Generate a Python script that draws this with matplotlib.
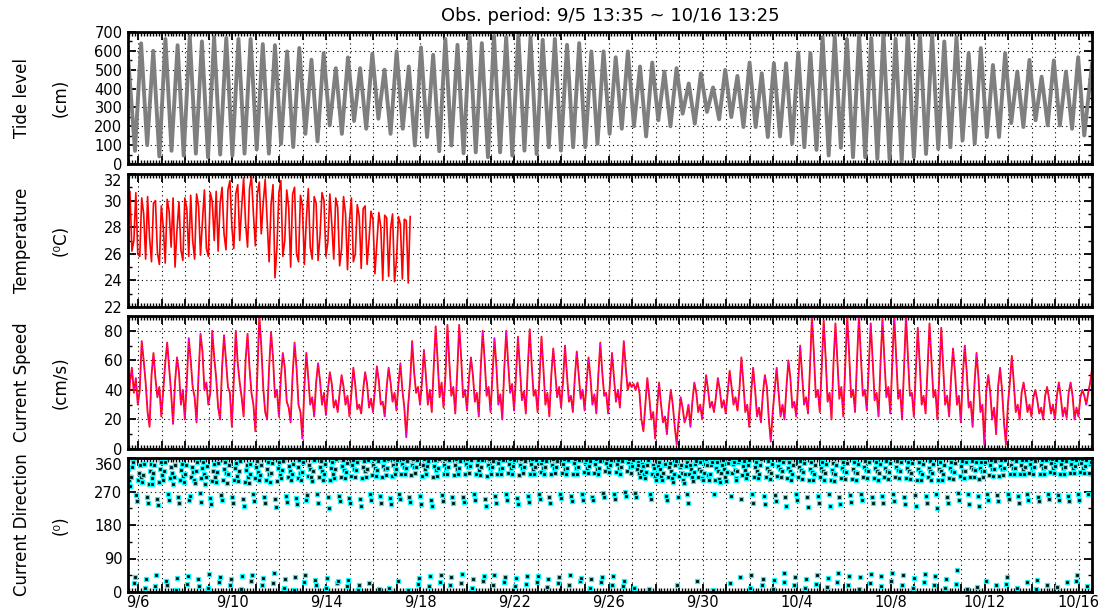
import numpy as np
import pandas as pd
import matplotlib
matplotlib.use('Agg')
import matplotlib.pyplot as plt
import matplotlib.dates as mdates
from matplotlib.ticker import MultipleLocator, FixedLocator, FuncFormatter
from datetime import date

# --- observation window ---
obs_start = pd.Timestamp('2015-09-05 13:35')
obs_end = pd.Timestamp('2015-10-16 13:25')
title = 'Obs. period: 9/5 13:35 ~ 10/16 13:25'

# --- tide level (cm): low / high waters ---
tide_first_value = 570          # at obs start
tide_last_value = 530           # at obs end
tide_first_low_h = 7.15         # hours after start of first low water
tide_half_period_h = 6.21       # semidiurnal half period
tide_lows = [70, 100, 40, 70, 45, 55, 35, 50, 45, 55, 77, 55, 107, 90, 160, 120,
             205, 160, 228, 187, 240, 160,
             187, 98, 143, 68, 98, 57, 62, 36, 62, 45, 71, 53, 89, 71, 89, 89,
             107, 160, 187, 200, 146, 232, 200, 267, 214, 276, 237, 249, 196, 196, 143,
             146, 107, 89, 75, 45, 86, 36, 36, 27, 27, 15, 36, 53, 80, 89, 125,
             107, 143, 143, 217, 196, 232, 205, 205, 187, 151]
tide_highs = [640, 600, 663, 630, 677, 650, 673, 668, 663, 663, 636, 630, 597, 615,
              553, 588, 508, 565, 508, 585, 500, 597,
              517, 618, 579, 663, 632, 680, 641, 680, 673, 682, 673, 659, 663, 632,
              641, 597, 597, 566, 597, 517, 538, 490, 508, 427, 481, 406, 499, 467,
              538, 481, 534,
              534, 591, 588, 673, 677, 663, 686, 668, 691, 664, 698, 686, 686, 650,
              673, 588, 615, 525, 588, 490, 552, 463, 549, 490, 566]

# --- water temperature (deg C), every 2 h from obs start ---
temp_step_h = 2
temperature = [
    29.5, 30.7, 26.2, 27.0, 30.6, 26.0, 25.8, 30.2, 29.0, 25.6, 30.3, 27.2,
    25.4, 29.8, 30.0, 26.1, 25.2, 29.6, 28.0, 25.3, 30.1, 29.2, 26.5, 30.2,
    25.0, 27.8, 29.9, 26.3, 25.5, 30.2, 29.4, 25.8, 30.4, 27.0, 25.6, 30.5,
    29.6, 25.9, 28.5, 30.8, 26.4, 25.8, 30.6, 29.9, 27.0, 30.7, 26.2, 29.8,
    31.0, 27.5, 26.3, 30.8, 31.5, 28.0, 26.4, 30.5, 31.2, 27.0, 29.5, 31.7,
    28.3, 26.5, 30.9, 31.8, 29.0, 26.6, 30.5, 31.4, 27.5, 29.8, 31.6, 28.5,
    25.4, 29.7, 31.2, 24.2, 26.5, 30.6, 31.5, 25.8, 27.0, 30.8, 29.5, 25.0,
    30.5, 31.0, 26.0, 25.4, 30.4, 29.6, 25.2, 28.6, 30.9, 26.5, 25.6, 30.3,
    29.8, 25.5, 27.4, 30.6, 30.0, 25.8, 26.9, 30.5, 28.2, 25.6, 30.2, 29.5,
    25.1, 26.4, 30.3, 29.0, 24.8, 28.5, 30.2, 25.4, 26.0, 29.7, 28.8, 24.9,
    29.4, 29.6, 25.2, 27.1, 29.2, 28.6, 24.5, 26.8, 29.1, 28.0, 24.0, 28.9,
    28.7, 24.3, 27.9, 29.0, 23.9, 25.5, 28.8, 28.2, 24.1, 28.6, 28.5, 23.8,
    28.8]

# --- current speed (cm/s), every 2 h from obs start ---
speed_step_h = 2
current_speed = [
    22, 45, 55, 38, 48, 30, 40, 73, 60, 45, 25, 15,
    50, 65, 48, 35, 42, 22, 40, 58, 72, 55, 38, 17,
    45, 62, 52, 30, 40, 20, 45, 75, 60, 42, 35, 18,
    50, 78, 66, 40, 45, 30, 38, 80, 62, 48, 28, 20,
    55, 77, 60, 42, 38, 15, 47, 80, 58, 45, 35, 22,
    60, 78, 55, 38, 30, 12, 52, 90, 70, 42, 25, 20,
    55, 79, 62, 35, 40, 22, 48, 65, 55, 32, 28, 18,
    50, 72, 55, 30, 25, 7, 42, 65, 48, 30, 35, 22,
    45, 58, 46, 30, 38, 23, 40, 52, 44, 28, 33, 25,
    38, 50, 42, 30, 36, 22, 38, 55, 43, 27, 30, 24,
    40, 52, 44, 28, 34, 25, 40, 56, 46, 30, 32, 22,
    42, 55, 45, 32, 38, 26, 44, 58, 40, 28, 8, 30,
    46, 73, 52, 38, 42, 30, 45, 67, 50, 30, 40, 25,
    55, 83, 60, 35, 45, 28, 50, 84, 58, 36, 42, 24,
    52, 84, 62, 35, 40, 26, 48, 62, 50, 32, 38, 22,
    55, 80, 60, 36, 42, 25, 50, 75, 56, 30, 37, 20,
    54, 80, 58, 38, 44, 26, 50, 76, 55, 33, 39, 24,
    55, 81, 57, 36, 40, 25, 48, 76, 54, 30, 38, 22,
    50, 68, 52, 35, 42, 28, 46, 70, 50, 32, 36, 25,
    48, 66, 50, 34, 40, 26, 45, 62, 48, 30, 37, 24,
    50, 72, 52, 36, 38, 24, 46, 65, 48, 32, 40, 28,
    50, 73, 55, 40, 45, 42, 44, 40, 45, 38, 20, 12,
    30, 48, 35, 20, 25, 7, 28, 45, 30, 18, 22, 10,
    28, 40, 30, 15, 3, 20, 35, 28, 18, 22, 30, 15,
    32, 45, 38, 25, 30, 20, 35, 50, 40, 28, 32, 25,
    35, 48, 40, 28, 33, 24, 38, 53, 42, 30, 35, 26,
    40, 62, 45, 25, 30, 15, 38, 55, 40, 22, 28, 18,
    38, 50, 42, 20, 5, 25, 40, 55, 38, 22, 30, 20,
    42, 60, 48, 28, 32, 22, 45, 70, 50, 30, 35, 24,
    55, 90, 65, 35, 40, 25, 55, 87, 62, 32, 38, 20,
    58, 85, 60, 34, 42, 22, 56, 90, 64, 35, 40, 25,
    60, 90, 62, 36, 40, 26, 55, 85, 60, 33, 38, 22,
    58, 88, 60, 35, 42, 24, 58, 90, 62, 34, 40, 20,
    55, 90, 62, 36, 38, 22, 52, 82, 58, 30, 36, 24,
    54, 85, 60, 35, 40, 20, 50, 82, 55, 30, 36, 22,
    48, 68, 52, 30, 36, 18, 50, 70, 52, 28, 32, 15,
    45, 65, 48, 25, 30, 3, 40, 50, 38, 20, 28, 10,
    42, 55, 40, 18, 3, 30, 45, 63, 45, 25, 30, 20,
    38, 45, 36, 25, 30, 22, 35, 40, 33, 24, 28, 20,
    36, 42, 34, 24, 30, 20, 36, 45, 35, 22, 28, 21,
    38, 45, 36, 20, 28, 22, 35, 40, 36, 30, 38, 45,
    55]

# --- current direction (deg), hourly from obs start ---
dir_step_h = 1
current_dir = [
    330, 300, 285, 310, 335, 350, 25, 40, 260, 245, 300, 320, 340, 310, 295, 315, 345, 10, 35, 255, 240, 290, 325, 345,
    305, 290, 320, 340, 15, 45, 250, 235, 295, 330, 350, 315, 300, 325, 348, 30, 20, 262, 248, 305, 335, 320, 290, 310,
    340, 5, 38, 255, 238, 300, 328, 345, 312, 296, 318, 342, 22, 44, 248, 258, 310, 336, 322, 300, 292, 325, 350, 35,
    15, 265, 242, 305, 332, 348, 318, 290, 310, 338, 12, 48, 252, 236, 298, 326, 344, 308, 295, 322, 346, 28, 40, 260,
    247, 300, 330, 350, 320, 294, 316, 340, 20, 36, 256, 240, 302, 334, 346, 312, 298, 324, 352, 8, 42, 250, 232, 296,
    328, 342, 310, 292, 318, 345, 30, 45, 262, 244, 306, 336, 352, 322, 300, 315, 340, 18, 38, 255, 238, 300, 330, 348,
    318, 296, 320, 346, 25, 50, 250, 228, 298, 332, 350, 315, 305, 328, 352, 12, 35, 258, 242, 308, 338, 325, 302, 318,
    344, 6, 40, 253, 236, 305, 335, 355, 320, 300, 322, 348, 28, 46, 247, 260, 312, 340, 330, 308, 298, 326, 354, 32,
    18, 262, 240, 310, 336, 352, 326, 300, 318, 344, 10, 38, 256, 226, 302, 334, 350, 316, 305, 330, 356, 24, 30, 258,
    244, 308, 338, 354, 328, 306, 322, 346, 15, 33, 252, 238, 312, 340, 355, 330, 310, 328, 350, 5, 20, 250, 230, 305,
    336, 352, 325, 310, 330, 355, 25, 262, 246, 315, 342, 356, 332, 312, 328, 352, 8, 258, 240, 310, 338, 354, 330, 315,
    332, 356, 12, 252, 236, 312, 340, 356, 334, 316, 330, 354, 30, 264, 250, 318, 345, 358, 335, 318, 332, 352, 5, 256,
    242, 315, 342, 358, 336, 320, 335, 355, 22, 38, 258, 236, 312, 340, 356, 330, 316, 338, 352, 15, 42, 248, 232, 310,
    338, 355, 328, 312, 334, 356, 28, 45, 260, 244, 316, 342, 358, 332, 318, 336, 354, 18, 40, 254, 238, 314, 340, 356,
    330, 316, 334, 352, 24, 48, 256, 242, 318, 344, 356, 335, 320, 338, 355, 12, 36, 262, 246, 316, 342, 354, 328, 314,
    336, 354, 30, 44, 250, 232, 312, 340, 358, 334, 318, 336, 352, 20, 46, 258, 240, 318, 346, 356, 330, 316, 334, 355,
    26, 40, 262, 248, 320, 344, 356, 332, 318, 338, 354, 16, 38, 252, 236, 314, 342, 357, 334, 320, 336, 352, 22, 44,
    258, 242, 318, 345, 356, 330, 316, 335, 354, 28, 42, 262, 250, 322, 346, 355, 332, 318, 336, 353, 14, 36, 256, 238,
    316, 342, 357, 334, 320, 337, 352, 24, 40, 264, 252, 320, 344, 356, 330, 316, 334, 355, 18, 45, 258, 244, 318, 346,
    356, 332, 318, 336, 354, 30, 38, 262, 248, 322, 348, 355, 334, 320, 338, 352, 12, 34, 255, 246, 320, 344, 356, 330,
    316, 334, 353, 26, 40, 266, 254, 324, 346, 357, 336, 322, 340, 355, 20, 42, 262, 250, 322, 345, 354, 332, 318, 336,
    352, 15, 30, 268, 258, 326, 348, 356, 335, 320, 338, 354, 10, 266, 255, 330, 348, 340, 320, 310, 325, 345, 338, 318,
    305, 322, 342, 355, 8, 262, 250, 318, 340, 332, 312, 300, 318, 338, 350, 330, 312, 300, 320, 342, 345, 258, 246, 310,
    335, 346, 325, 305, 296, 318, 340, 352, 20, 255, 312, 336, 342, 320, 302, 294, 316, 338, 348, 262, 240, 316, 340, 330,
    310, 298, 322, 345, 352, 30, 310, 330, 348, 325, 305, 300, 320, 344, 356, 340, 315, 300, 318, 340, 350, 5, 262, 300,
    332, 350, 326, 304, 296, 320, 342, 354, 330, 308, 298, 322, 346, 356, 25, 258, 320, 344, 350, 328, 306, 300, 324, 348,
    355, 40, 250, 314, 338, 352, 328, 306, 316, 340, 355, 12, 46, 262, 240, 310, 336, 350, 324, 305, 318, 342, 356, 20,
    36, 258, 236, 308, 334, 352, 326, 304, 320, 345, 8, 32, 260, 244, 312, 338, 354, 330, 310, 326, 348, 28, 50, 254,
    232, 306, 332, 350, 325, 300, 318, 342, 18, 40, 262, 246, 310, 336, 352, 328, 304, 322, 346, 10, 36, 256, 228, 302,
    330, 348, 322, 300, 316, 340, 22, 46, 258, 240, 308, 334, 350, 324, 302, 320, 344, 14, 38, 262, 232, 300, 328, 346,
    320, 298, 318, 342, 28, 50, 254, 236, 306, 332, 350, 326, 304, 322, 346, 18, 44, 260, 242, 304, 330, 348, 322, 300,
    320, 344, 8, 40, 262, 246, 310, 336, 352, 328, 306, 324, 348, 24, 48, 256, 238, 306, 334, 350, 324, 302, 320, 345,
    15, 42, 258, 240, 308, 334, 352, 326, 304, 322, 347, 30, 52, 262, 244, 310, 336, 353, 328, 306, 324, 348, 20, 45,
    255, 236, 306, 332, 350, 326, 304, 320, 346, 12, 38, 260, 230, 302, 330, 350, 322, 300, 318, 344, 26, 48, 258, 240,
    308, 334, 352, 326, 302, 320, 345, 18, 44, 262, 226, 300, 330, 348, 324, 300, 318, 342, 10, 36, 256, 238, 306, 334,
    350, 324, 304, 322, 346, 22, 60, 265, 248, 312, 338, 352, 326, 306, 324, 348, 8, 262, 236, 308, 336, 352, 330, 310,
    328, 350, 14, 258, 232, 304, 332, 350, 326, 308, 326, 350, 30, 264, 248, 314, 340, 355, 330, 312, 330, 352, 18, 260,
    244, 312, 338, 354, 330, 314, 332, 355, 22, 40, 262, 250, 318, 342, 356, 332, 316, 334, 352, 12, 258, 240, 316, 342,
    355, 330, 316, 336, 354, 26, 262, 248, 320, 344, 356, 334, 318, 336, 352, 8, 32, 256, 244, 318, 342, 354, 332, 318,
    336, 354, 20, 262, 250, 322, 346, 356, 334, 320, 338, 354, 14, 260, 246, 318, 344, 355, 332, 318, 336, 353, 28, 258,
    244, 320, 345, 356, 334, 320, 338, 355, 30, 45, 262, 248, 322, 346, 356, 334, 320, 338, 354, 16, 262, 320, 345, 350]

# --- panel settings ---
panel_names = [('Tide level', '(cm)'), ('Temperature', '(\u2070C)'),
               ('Current Speed', '(cm/s)'), ('Current Direction', '(\u2070)')]
panel_yticks = [[0, 100, 200, 300, 400, 500, 600, 700],
                [22, 24, 26, 28, 30, 32],
                [0, 20, 40, 60, 80],
                [0, 90, 180, 270, 360]]
panel_ylim = [(0, 700), (22, 32), (0, 90), (0, 360)]
panel_minor = [50, 1, 10, 45]
panel_px = [(32, 164), (174, 307), (316, 449), (458, 592)]   # top/bottom in pixels
first_label_day = date(2015, 9, 6)

W, H = 1114, 609
AX_L, AX_R = 128, 1092


def to_time(hours):
    return (obs_start + pd.to_timedelta(np.asarray(hours, dtype=float), unit='h')).to_numpy()


def day_label(x, pos):
    d = mdates.num2date(x)
    if (d.date() - first_label_day).days % 4 == 0:
        return f'{d.month}/{d.day}'
    return ''


label_font = ['Liberation Sans Narrow', 'DejaVu Sans']

fig = plt.figure(figsize=(W / 100, H / 100), dpi=100)
axes = []
for i, (top, bot) in enumerate(panel_px):
    ax = fig.add_axes([AX_L / W, 1 - bot / H, (AX_R - AX_L) / W, (bot - top) / H])
    ax.set_xlim(obs_start.to_numpy(), obs_end.to_numpy())
    ax.set_ylim(*panel_ylim[i])
    ax.yaxis.set_major_locator(FixedLocator(panel_yticks[i]))
    ax.yaxis.set_minor_locator(MultipleLocator(panel_minor[i]))
    ax.xaxis.set_major_locator(mdates.DayLocator())
    ax.xaxis.set_minor_locator(mdates.HourLocator(byhour=range(0, 24, 3)))
    ax.xaxis.set_major_formatter(FuncFormatter(day_label))
    ax.tick_params(which='both', direction='in', top=True, right=True,
                   labelbottom=(i == 3), labelsize=10.5)
    ax.tick_params(axis='y', pad=4)
    ax.tick_params(axis='x', pad=2)
    ax.tick_params(which='major', length=6, width=1.3)
    ax.tick_params(which='minor', length=3, width=1.0)
    ax.grid(True, which='major', color='black', linestyle=(0, (1, 3)), linewidth=0.8)
    for sp in ax.spines.values():
        sp.set_linewidth(2)
    # a label sitting on the top frame hangs below it, clear of the panel above
    if panel_yticks[i][-1] == panel_ylim[i][1] and i > 0:
        ax.yaxis.get_major_ticks()[-1].label1.set_va('top')
    cy = 1 - (top + bot) / 2 / H
    fig.text(22 / W, cy, panel_names[i][0], rotation=90, ha='center', va='center',
             fontsize=12, family=label_font)
    fig.text(61 / W, cy, panel_names[i][1], rotation=90, ha='center', va='center',
             fontsize=12, family=label_font)
    axes.append(ax)

# 1. tide: start, alternating low/high waters, end
tide_vals = [tide_first_value]
for k in range(len(tide_lows)):
    tide_vals.append(tide_lows[k])
    if k < len(tide_highs):
        tide_vals.append(tide_highs[k])
tide_vals.append(tide_last_value)
tide_hours = [0] + [tide_first_low_h + tide_half_period_h * k for k in range(len(tide_vals) - 2)] \
    + [(obs_end - obs_start).total_seconds() / 3600]
axes[0].plot(to_time(tide_hours), tide_vals, color='#7f7f7f', lw=2.8, solid_joinstyle='round')

# 2. temperature
t_temp = to_time(np.arange(len(temperature)) * temp_step_h)
axes[1].plot(t_temp, temperature, color='red', lw=1.2)

# 3. current speed
t_spd = to_time(np.arange(len(current_speed)) * speed_step_h)
axes[2].plot(t_spd, current_speed, color='red', lw=1.3)
axes[2].plot(t_spd, current_speed, color='magenta', lw=0.8, linestyle=(0, (1, 1.5)))

# 4. current direction
t_dir = to_time(np.arange(len(current_dir)) * dir_step_h)
axes[3].plot(t_dir, current_dir, linestyle='none', marker='s', ms=2.4,
             mfc='black', mec='cyan', mew=0.9, clip_on=True)

fig.text(610 / W, 1 - 16 / H, title, ha='center', va='center', fontsize=13)

plt.savefig('out.png', dpi=100)
plt.close(fig)
